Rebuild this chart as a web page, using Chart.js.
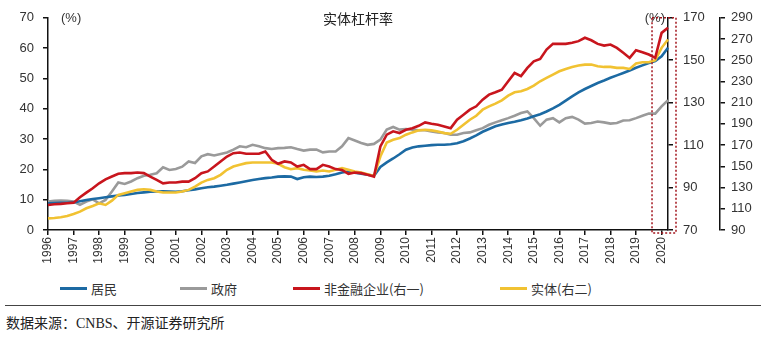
<!DOCTYPE html>
<html>
<head>
<meta charset="utf-8">
<script src="https://cdn.jsdelivr.net/npm/chart.js@4.4.0/dist/chart.umd.min.js"></script>
<style>
    html, body { margin: 0; padding: 0; background: #fff; }
    #wrap { position: relative; width: 768px; height: 337px; overflow: hidden; }
    #chart-box { position: absolute; left: 0; top: 0; width: 768px; height: 268px; }
    #legend { position: absolute; left: 0; top: 278px; width: 768px; height: 20px; }
    .lg-item { position: absolute; top: 0; height: 20px; display: flex; align-items: center;
        font: 13px "Noto Sans CJK SC", sans-serif; color: #333; white-space: nowrap; }
    .lg-line { display: inline-block; width: 27px; height: 3px; margin-right: 4px; }
    #rule { position: absolute; left: 5px; top: 305px; width: 756px; height: 1px; background: #444; }
    #source { position: absolute; left: 6px; top: 312px; font: 14px "Liberation Serif", "Noto Sans CJK SC", serif; color: #222; }
</style>
</head>
<body>
<div id="wrap">
    <div id="chart-box"><canvas id="leverageChart"></canvas></div>
    <div id="legend"></div>
    <div id="rule"></div>
    <div id="source">数据来源：CNBS、开源证券研究所</div>
</div>
<script>
// quarterly, 1996Q1 - 2020Q2
const years = [1996, 1997, 1998, 1999, 2000, 2001, 2002, 2003, 2004, 2005, 2006, 2007,
    2008, 2009, 2010, 2011, 2012, 2013, 2014, 2015, 2016, 2017, 2018, 2019, 2020];

// 居民 (left axis, %)
const household = [
    8.8, 8.9, 9.0, 9.0,  9.1, 9.5, 9.9, 10.2,  10.5, 10.8, 11.1, 11.4,  11.6, 11.9, 12.2, 12.4,
    12.6, 12.7, 12.8, 12.7,  12.6, 12.8, 13.1, 13.4,  13.8, 14.1, 14.3, 14.6,  14.9, 15.3, 15.7, 16.1,
    16.5, 16.8, 17.1, 17.3,  17.6, 17.7, 17.6, 16.8,  17.4, 17.6, 17.5, 17.6,  17.9, 18.4, 19.0, 19.3,
    18.9, 18.6, 18.2, 17.9,  20.8, 22.3, 23.6, 25.0,  26.5, 27.2, 27.6, 27.8,  28.0, 28.1, 28.1, 28.3,
    28.6, 29.3, 30.2, 31.2,  32.4, 33.3, 34.2, 34.8,  35.3, 35.7, 36.2, 36.8,  37.5, 38.2, 39.1, 40.1,
    41.3, 42.7, 44.1, 45.4,  46.5, 47.5, 48.5, 49.3,  50.2, 51.0, 51.8, 52.6,  53.5, 54.3, 55.1, 55.7,
    57.3, 60.1
];

// 政府 (left axis, %)
const government = [
    9.4, 9.6, 9.7, 9.6,  9.4, 8.3, 9.4, 10.1,  8.8, 9.9, 12.7, 15.7,  15.2, 16.0, 17.1, 17.9,
    18.2, 18.7, 20.7, 19.8,  20.1, 20.9, 22.6, 22.1,  24.3, 25.0, 24.6, 25.1,  25.6, 26.5, 27.6, 27.3,
    28.1, 27.6, 27.0, 26.7,  27.0, 27.1, 27.3, 26.7,  26.2, 26.5, 26.5, 25.6,  25.9, 25.9, 27.6, 30.3,
    29.5, 28.7, 28.1, 28.4,  29.8, 33.1, 34.0, 33.1,  33.3, 33.1, 32.9, 32.9,  32.5, 32.2, 32.0, 31.4,
    31.4, 32.0, 32.2, 32.9,  33.6, 34.7, 35.5, 36.2,  36.9, 37.7, 38.6, 39.1,  36.9, 34.4, 36.4, 36.9,
    35.5, 36.9, 37.3, 36.4,  35.1, 35.3, 35.8, 35.5,  35.1, 35.3, 36.1, 36.2,  36.9, 37.7, 38.4, 38.4,
    40.8, 42.8
];

// 非金融企业 (right axis 1, %)
const corporate = [
    81.8, 82.1, 82.3, 82.6,  82.9, 85.4, 87.6, 89.7,  92.0, 93.9, 95.2, 96.5,  96.8, 96.8, 97.1, 96.8,
    95.2, 93.6, 92.0, 92.4,  92.4, 92.8, 92.8, 94.4,  96.8, 97.6, 99.9, 102.3,  104.6, 106.2, 106.5, 105.9,
    105.9, 105.9, 107.0, 103.1,  101.2, 102.3, 101.8, 99.9,  100.7, 98.7, 98.7, 100.7,  99.9, 98.7, 98.3, 96.5,
    97.1, 96.8, 96.0, 95.2,  109.4, 114.9, 116.5, 115.7,  117.2, 118.0, 119.1, 120.7,  120.1, 119.6, 118.8, 118.0,
    122.0, 124.3, 126.7, 128.3,  131.4, 133.8, 134.9, 136.1,  140.1, 144.0, 142.5, 146.4,  149.5, 150.6, 155.0, 157.7,
    157.7, 157.7, 158.2, 159.0,  160.6, 159.4, 157.7, 156.9,  157.4, 155.8, 153.5, 151.1,  154.7, 153.8, 152.7, 151.1,
    162.9, 165.3
];

// 实体 (right axis 2, %)
const realEconomy = [
    101.0, 101.3, 102.0, 103.2,  105.1, 107.3, 110.5, 112.7,  115.2, 113.6, 117.7, 123.1,  124.6, 126.2, 127.8, 128.4,
    127.8, 126.2, 125.3, 125.3,  125.3, 126.2, 127.8, 130.9,  134.7, 137.2, 138.8, 142.0,  146.7, 149.8, 151.4, 153.0,
    153.6, 153.6, 153.6, 153.6,  152.4, 149.2, 147.3, 148.3,  146.7, 146.1, 145.1, 146.1,  145.1, 146.7, 148.3, 146.7,
    145.1, 144.2, 142.6, 141.0,  159.3, 172.5, 175.0, 176.6,  179.8, 182.0, 183.9, 184.5,  183.9, 182.9, 181.3, 180.7,
    184.5, 189.2, 193.9, 197.7,  203.4, 206.5, 209.1, 212.2,  216.6, 219.8, 220.7, 222.9,  226.1, 230.2, 233.3, 236.5,
    239.6, 241.8, 243.7, 245.0,  245.9, 245.9, 244.3, 243.7,  243.7, 242.8, 242.8, 241.8,  246.9, 248.1, 248.1, 250.0,
    261.7, 269.5
];

const seriesNames = ['居民', '政府', '非金融企业(右一)', '实体(右二)'];
const seriesColors = ['#1c6aa3', '#9a9a9a', '#c8151d', '#f1c232'];

const quarters = [];
years.forEach(y => ['Q1', 'Q2', 'Q3', 'Q4'].forEach(q => quarters.push(y + q)));
quarters.length = household.length;

const tickFont = { family: '"Liberation Sans", Arial, sans-serif', size: 13 };

// title, unit marks and the dotted frame around the latest quarters
const overlayPlugin = {
    id: 'overlay',
    afterDatasetsDraw(chart) {
        const { ctx, chartArea, scales } = chart;
        ctx.save();
        ctx.fillStyle = '#222';
        ctx.textBaseline = 'middle';
        ctx.font = '14px "Noto Sans CJK SC", sans-serif';
        ctx.textAlign = 'center';
        ctx.fillText('实体杠杆率', 358, chartArea.top + 1);
        ctx.font = '13px "Liberation Sans", Arial, sans-serif';
        ctx.fillStyle = '#333';
        ctx.textAlign = 'left';
        ctx.fillText('(%)', chartArea.left + 13, chartArea.top + 1);
        ctx.textAlign = 'right';
        ctx.fillText('(%)', chartArea.right - 3, chartArea.top + 1);

        const x = scales.x;
        const n = household.length;
        const x0 = (x.getPixelForValue(n - 4) + x.getPixelForValue(n - 3)) / 2;
        const x1 = chartArea.right + 8;
        ctx.strokeStyle = '#a3141c';
        ctx.lineWidth = 1.5;
        ctx.setLineDash([2, 2]);
        ctx.strokeRect(x0, chartArea.top, x1 - x0, chartArea.bottom - chartArea.top + 3);
        ctx.restore();
    }
};

function axisBase(extra) {
    return Object.assign({
        border: { display: true, color: '#111', width: 1.5 },
        grid: { drawOnChartArea: false, drawTicks: true, tickLength: 5, color: '#111', lineWidth: 1.5 },
    }, extra);
}

new Chart(document.getElementById('leverageChart'), {
    type: 'line',
    data: {
        labels: quarters,
        datasets: [
            { label: seriesNames[2], data: corporate, yAxisID: 'y1', borderColor: seriesColors[2], order: 1 },
            { label: seriesNames[3], data: realEconomy, yAxisID: 'y2', borderColor: seriesColors[3], order: 2 },
            { label: seriesNames[0], data: household, yAxisID: 'y', borderColor: seriesColors[0], order: 3 },
            { label: seriesNames[1], data: government, yAxisID: 'y', borderColor: seriesColors[1], order: 4 }
        ].map(d => Object.assign(d, { borderWidth: 2.6, pointRadius: 0, tension: 0, fill: false }))
    },
    options: {
        responsive: true,
        maintainAspectRatio: false,
        animation: false,
        layout: { padding: { top: 17, left: 0, right: 0, bottom: 0 } },
        plugins: { legend: { display: false }, tooltip: { enabled: false } },
        scales: {
            x: axisBase({
                type: 'category',
                offset: false,
                afterFit: s => { s.height = 38; },
                ticks: {
                    autoSkip: false, minRotation: 90, maxRotation: 90, padding: 2, color: '#333',
                    font: { family: tickFont.family, size: 12 },
                    callback: function (v, i) {
                        const lab = this.getLabelForValue(v);
                        return lab.endsWith('Q1') ? lab.slice(0, 4) : null;
                    }
                }
            }),
            y: axisBase({
                position: 'left', min: 0, max: 70,
                afterFit: s => { s.width = 48; },
                ticks: { stepSize: 10, padding: 9, color: '#333', font: tickFont }
            }),
            y1: axisBase({
                position: 'right', min: 70, max: 170, weight: 0,
                afterFit: s => { s.width = 52; },
                ticks: { stepSize: 20, padding: 10, color: '#333', font: tickFont }
            }),
            y2: axisBase({
                position: 'right', min: 90, max: 290, weight: 1,
                afterFit: s => { s.width = 48; },
                ticks: { stepSize: 20, padding: 6, color: '#333', font: tickFont }
            })
        }
    },
    plugins: [overlayPlugin]
});

// legend row under the axis
const legendLefts = [60, 180, 293, 500];
const legendEl = document.getElementById('legend');
seriesNames.forEach((name, i) => {
    const item = document.createElement('div');
    item.className = 'lg-item';
    item.style.left = legendLefts[i] + 'px';
    item.innerHTML = '<span class="lg-line" style="background:' + seriesColors[i] + '"></span>' + name;
    legendEl.appendChild(item);
});
</script>
</body>
</html>
